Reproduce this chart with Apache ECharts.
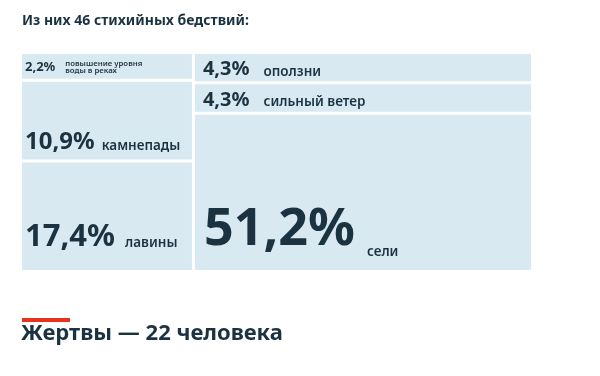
<!DOCTYPE html>
<html>
<head>
<meta charset="utf-8">
<script src="https://cdn.jsdelivr.net/npm/echarts@6/dist/echarts.min.js"></script>
<style>
  html, body { margin: 0; padding: 0; background: #fff; }
  #chart { width: 600px; height: 376px; }
</style>
</head>
<body>
<div id="chart"></div>
<script>
// left column, top to bottom
const leftNames = ['повышение уровня\nводы в реках', 'камнепады', 'лавины'];
const leftValues = [2.2, 10.9, 17.4];
// right column, top to bottom
const rightNames = ['оползни', 'сильный ветер', 'сели'];
const rightValues = [4.3, 4.3, 51.2];

const FONT = '"Noto Sans", sans-serif';
const INK = '#1b3341';

// label looks per cell (same order as the cells)
const cellLook = [
  { pct: 13, name: 7.8, anchor: 'middle', pad: 3, gap: 10, shift: 1 },
  { pct: 24, name: 13.5, anchor: 'bottom', off: 9, pad: 3, gap: 7 },
  { pct: 31, name: 13.5, anchor: 'bottom', off: 22, pad: 3, gap: 10 },
  { pct: 20, name: 13.5, anchor: 'middle', pad: 8, gap: 14, shift: 2 },
  { pct: 20, name: 13.5, anchor: 'middle', pad: 8, gap: 14, shift: 2 },
  { pct: 52, name: 13.5, anchor: 'bottom', off: 21, pad: 9, gap: 12, drop: 8 }
];

const sum = a => a.reduce((s, v) => s + v, 0);
// cell heights inside a column follow a power scale of the value
const power = 2 / 3;
const split = sum(leftValues) / (sum(leftValues) + sum(rightValues));

const cells = [];
const names = [];
function addColumn(values, labels, x0, x1) {
  const w = values.map(v => Math.pow(v, power));
  const tw = sum(w);
  let y = 0;
  values.forEach((v, i) => {
    const y0 = y;
    y += w[i] / tw;
    cells.push([x0, x1, y0, y, v, cells.length]);
    names.push(labels[i]);
  });
}
addColumn(leftValues, leftNames, 0, split);
addColumn(rightValues, rightNames, split, 1);

const measure = document.createElement('canvas').getContext('2d');
function textWidth(t, size) {
  measure.font = '700 ' + size + 'px ' + FONT;
  return measure.measureText(t).width;
}
const fmt = v => v.toFixed(1).replace('.', ',') + '%';

function renderItem(params, api) {
  const p0 = api.coord([api.value(0), api.value(2)]);
  const p1 = api.coord([api.value(1), api.value(3)]);
  const g = 1.5;
  const x = p0[0] + g, y = p0[1] + g;
  const w = p1[0] - p0[0] - 2 * g, h = p1[1] - p0[1] - 2 * g;
  const idx = api.value(5);
  const lk = cellLook[idx];
  const pctText = fmt(api.value(4));
  // baseline of the percentage
  const base = lk.anchor === 'middle'
    ? y + h / 2 + lk.pct * 0.36 + (lk.shift || 0)
    : y + h - lk.off;
  const pw = textWidth(pctText, lk.pct);
  const multi = names[idx].indexOf('\n') >= 0;
  const nameY = multi ? base - lk.pct * 0.36 : base - lk.name * 0.36 + (lk.drop || 0);
  return {
    type: 'group',
    children: [
      { type: 'rect', shape: { x: x, y: y, width: w, height: h }, style: { fill: '#d9e9f1' } },
      {
        type: 'text', x: x + lk.pad, y: base - lk.pct * 0.36,
        style: { text: pctText, fill: INK, font: '700 ' + lk.pct + 'px ' + FONT, verticalAlign: 'middle', align: 'left' }
      },
      {
        type: 'text', x: x + lk.pad + pw + lk.gap, y: nameY,
        style: {
          text: names[idx], fill: INK, font: '600 ' + lk.name + 'px ' + FONT,
          verticalAlign: 'middle', align: 'left', lineHeight: lk.name * 0.95
        }
      }
    ]
  };
}

const chart = echarts.init(document.getElementById('chart'));
chart.setOption({
  animation: false,
  title: {
    text: 'Из них 46 стихийных бедствий:',
    left: 17, top: 9,
    textStyle: { fontFamily: FONT, fontWeight: 700, fontSize: 14, color: INK }
  },
  grid: { left: 20.5, right: 67.5, top: 52.5, bottom: 104.5 },
  xAxis: { type: 'value', min: 0, max: 1, show: false },
  yAxis: { type: 'value', min: 0, max: 1, inverse: true, show: false },
  series: [{
    type: 'custom',
    renderItem: renderItem,
    encode: { x: [0, 1], y: [2, 3] },
    data: cells
  }],
  graphic: [
    { type: 'rect', left: 22, top: 318, shape: { width: 48, height: 4 }, style: { fill: '#e8321e' } },
    {
      type: 'text', left: 21, top: 323,
      style: { text: 'Жертвы — 22 человека', fill: INK, font: '700 22px ' + FONT }
    }
  ]
});
</script>
</body>
</html>
